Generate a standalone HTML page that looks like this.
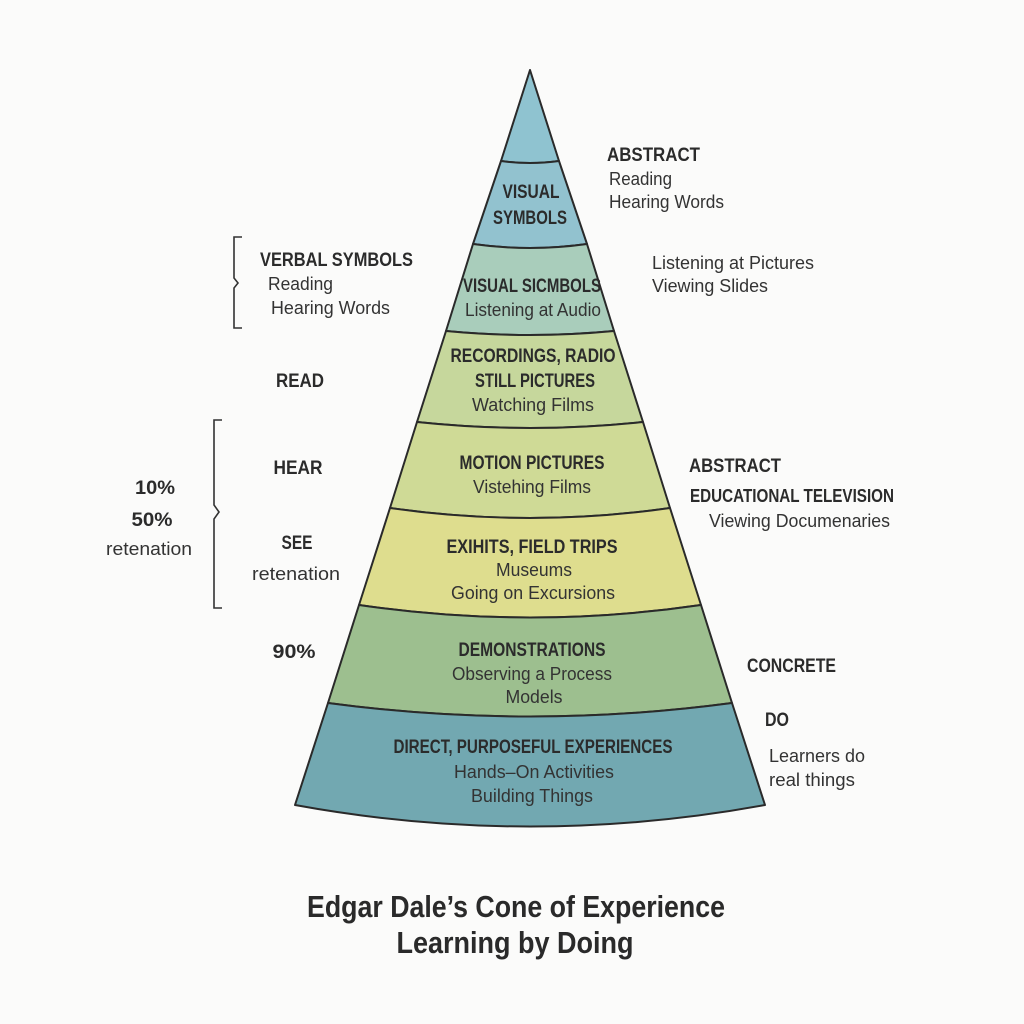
<!DOCTYPE html>
<html><head><meta charset="utf-8"><style>
html,body{margin:0;padding:0;background:#fbfbfa;}
svg{display:block;}
text{font-family:"Liberation Sans",sans-serif;fill:#2b2b2b;}
.b{font-weight:bold;font-size:19px;}
.r{font-size:18px;fill:#333;}
.t{font-weight:bold;font-size:31px;fill:#2a2a2a;}
</style></head><body>
<svg width="1024" height="1024" viewBox="0 0 1024 1024" xmlns="http://www.w3.org/2000/svg">
<rect width="1024" height="1024" fill="#fbfbfa"/>
<g stroke="#2a2a2a" stroke-width="2" stroke-linejoin="round">
<path d="M530,70 L559,161 Q530,165 501,161 Z" fill="#8fc3d0"/>
<path d="M501,161 Q530,165 559,161 L587,244 Q530,252 473,244 Z" fill="#92c2cf"/>
<path d="M473,244 Q530,252 587,244 L614,331 Q530,339 446,331 Z" fill="#a9cdbb"/>
<path d="M446,331 Q530,339 614,331 L643,422 Q530,434 417,422 Z" fill="#c6d79c"/>
<path d="M417,422 Q530,434 643,422 L670,508 Q530,528 390,508 Z" fill="#cfda96"/>
<path d="M390,508 Q530,528 670,508 L701,605 Q530,630 359,605 Z" fill="#dedd8e"/>
<path d="M359,605 Q530,630 701,605 L732,703 Q530,730 328,703 Z" fill="#9dbf8f"/>
<path d="M328,703 Q530,730 732,703 L765,805 Q530,848 295,805 Z" fill="#72a8b1"/>
</g>
<g stroke="#333" stroke-width="1.6" fill="none">
<path d="M242,237 H234 V278 L238,283 L234,288 V328 H242"/>
<path d="M222,420 H214 V505 L219,512 L214,519 V608 H222"/>
</g>
<g text-anchor="middle" lengthAdjust="spacingAndGlyphs">
<text class="b" x="531" y="198" textLength="57" lengthAdjust="spacingAndGlyphs">VISUAL</text>
<text class="b" x="530" y="224" textLength="74" lengthAdjust="spacingAndGlyphs">SYMBOLS</text>
<text class="b" x="532" y="292" textLength="138" lengthAdjust="spacingAndGlyphs">VISUAL SICMBOLS</text>
<text class="r" x="533" y="316" textLength="136" lengthAdjust="spacingAndGlyphs">Listening at Audio</text>
<text class="b" x="533" y="362" textLength="165" lengthAdjust="spacingAndGlyphs">RECORDINGS, RADIO</text>
<text class="b" x="535" y="387" textLength="120" lengthAdjust="spacingAndGlyphs">STILL PICTURES</text>
<text class="r" x="533" y="411" textLength="122" lengthAdjust="spacingAndGlyphs">Watching Films</text>
<text class="b" x="532" y="469" textLength="145" lengthAdjust="spacingAndGlyphs">MOTION PICTURES</text>
<text class="r" x="532" y="493" textLength="118" lengthAdjust="spacingAndGlyphs">Vistehing Films</text>
<text class="b" x="532" y="553" textLength="171" lengthAdjust="spacingAndGlyphs">EXIHITS, FIELD TRIPS</text>
<text class="r" x="534" y="576" textLength="76" lengthAdjust="spacingAndGlyphs">Museums</text>
<text class="r" x="533" y="599" textLength="164" lengthAdjust="spacingAndGlyphs">Going on Excursions</text>
<text class="b" x="532" y="656" textLength="147" lengthAdjust="spacingAndGlyphs">DEMONSTRATIONS</text>
<text class="r" x="532" y="680" textLength="160" lengthAdjust="spacingAndGlyphs">Observing a Process</text>
<text class="r" x="534" y="703" textLength="57" lengthAdjust="spacingAndGlyphs">Models</text>
<text class="b" x="533" y="753" textLength="279" lengthAdjust="spacingAndGlyphs">DIRECT, PURPOSEFUL EXPERIENCES</text>
<text class="r" x="534" y="778" textLength="160" lengthAdjust="spacingAndGlyphs">Hands–On Activities</text>
<text class="r" x="532" y="802" textLength="122" lengthAdjust="spacingAndGlyphs">Building Things</text>
<text class="b" x="300" y="387" textLength="48" lengthAdjust="spacingAndGlyphs">READ</text>
<text class="b" x="298" y="474" textLength="49" lengthAdjust="spacingAndGlyphs">HEAR</text>
<text class="b" x="297" y="549" textLength="31" lengthAdjust="spacingAndGlyphs">SEE</text>
<text class="r" x="296" y="580" textLength="88" lengthAdjust="spacingAndGlyphs">retenation</text>
<text class="b" x="155" y="494" textLength="40" lengthAdjust="spacingAndGlyphs">10%</text>
<text class="b" x="152" y="526" textLength="41" lengthAdjust="spacingAndGlyphs">50%</text>
<text class="r" x="149" y="555" textLength="86" lengthAdjust="spacingAndGlyphs">retenation</text>
<text class="b" x="294" y="658" textLength="43" lengthAdjust="spacingAndGlyphs">90%</text>
<text class="t" x="516" y="917" textLength="418" lengthAdjust="spacingAndGlyphs">Edgar Dale’s Cone of Experience</text>
<text class="t" x="515" y="953" textLength="237" lengthAdjust="spacingAndGlyphs">Learning by Doing</text>
</g>
<text class="b" x="260" y="266" textLength="153" lengthAdjust="spacingAndGlyphs">VERBAL SYMBOLS</text>
<text class="r" x="268" y="290" textLength="65" lengthAdjust="spacingAndGlyphs">Reading</text>
<text class="r" x="271" y="314" textLength="119" lengthAdjust="spacingAndGlyphs">Hearing Words</text>
<text class="b" x="607" y="161" textLength="93" lengthAdjust="spacingAndGlyphs">ABSTRACT</text>
<text class="r" x="609" y="185" textLength="63" lengthAdjust="spacingAndGlyphs">Reading</text>
<text class="r" x="609" y="208" textLength="115" lengthAdjust="spacingAndGlyphs">Hearing Words</text>
<text class="r" x="652" y="269" textLength="162" lengthAdjust="spacingAndGlyphs">Listening at Pictures</text>
<text class="r" x="652" y="292" textLength="116" lengthAdjust="spacingAndGlyphs">Viewing Slides</text>
<text class="b" x="689" y="472" textLength="92" lengthAdjust="spacingAndGlyphs">ABSTRACT</text>
<text class="b" x="690" y="502" style="font-size:18px" textLength="204" lengthAdjust="spacingAndGlyphs">EDUCATIONAL TELEVISION</text>
<text class="r" x="709" y="527" textLength="181" lengthAdjust="spacingAndGlyphs">Viewing Documenaries</text>
<text class="b" x="747" y="672" textLength="89" lengthAdjust="spacingAndGlyphs">CONCRETE</text>
<text class="b" x="765" y="726" textLength="24" lengthAdjust="spacingAndGlyphs">DO</text>
<text class="r" x="769" y="762" textLength="96" lengthAdjust="spacingAndGlyphs">Learners do</text>
<text class="r" x="769" y="786" textLength="86" lengthAdjust="spacingAndGlyphs">real things</text>
</svg>
</body></html>
